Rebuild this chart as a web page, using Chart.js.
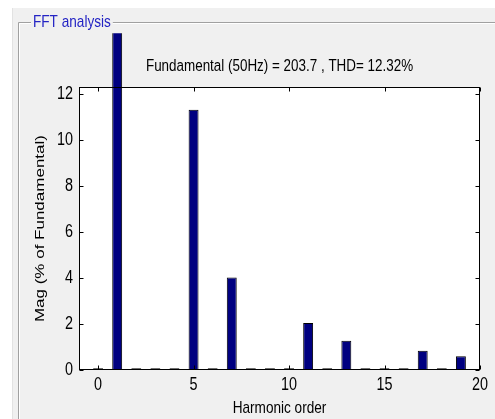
<!DOCTYPE html>
<html><head><meta charset="utf-8">
<script src="https://cdn.jsdelivr.net/npm/chart.js@4.4.1/dist/chart.umd.min.js"></script>
<style>html,body{margin:0;padding:0;background:#fff;}#wrap{width:495px;height:419px;}</style>
</head><body><div id="wrap"><canvas id="c" width="495" height="419"></canvas></div>
<script>
const harmonicOrder = [0,1,2,3,4,5,6,7,8,9,10,11,12,13,14,15,16,17,18,19];
const magnitude = [0.08,100,0.08,0.08,0.08,11.32,0.08,4.02,0.08,0.08,0.08,2.04,0.08,1.27,0.08,0.08,0.08,0.84,0.08,0.6];
const xTicks = [0,5,10,15,20];
const yTicks = [0,2,4,6,8,10,12];
const chartTitle = 'Fundamental (50Hz) = 203.7 , THD= 12.32%';
const panelTitle = 'FFT analysis';
const xTitle = 'Harmonic order';
const yTitle = 'Mag (% of Fundamental)';

const FONT = "'Liberation Sans', Arial, sans-serif";
const SQUISH = 0.8; // text in the reference is horizontally condensed

const canvas = document.getElementById('c');
const ctx0 = canvas.getContext('2d');
// condense all text horizontally in device space, around the anchor point
const origFill = ctx0.fillText.bind(ctx0);
ctx0.fillText = function (text, x, y, maxWidth) {
  const m = this.getTransform();
  const px = m.a * x + m.c * y + m.e;
  this.save();
  this.setTransform(new DOMMatrix().translate(px, 0).scale(SQUISH, 1).translate(-px, 0).multiply(m));
  if (maxWidth !== undefined) origFill(text, x, y, maxWidth / SQUISH); else origFill(text, x, y);
  this.restore();
};

const panel = {
  id: 'panel',
  beforeDraw(chart) {
    const ctx = chart.ctx, W = chart.width, H = chart.height;
    ctx.save();
    ctx.fillStyle = '#ffffff'; ctx.fillRect(0, 0, W, H);
    ctx.fillStyle = '#f0f0f0'; ctx.fillRect(12, 8, W - 12, H - 8);
    ctx.fillStyle = '#e2e2e2'; ctx.fillRect(12, 8, 1, H - 8);
    ctx.font = '17px ' + FONT;
    const tw = ctx.measureText(panelTitle).width * SQUISH;
    ctx.lineWidth = 1;
    ctx.strokeStyle = '#a0a0a0';
    ctx.beginPath();
    ctx.moveTo(18.5, H); ctx.lineTo(18.5, 22.5); ctx.lineTo(31, 22.5);
    ctx.moveTo(33 + tw + 2, 22.5); ctx.lineTo(W, 22.5);
    ctx.stroke();
    ctx.strokeStyle = '#ffffff';
    ctx.beginPath();
    ctx.moveTo(19.5, H); ctx.lineTo(19.5, 23.5); ctx.lineTo(31, 23.5);
    ctx.moveTo(33 + tw + 2, 23.5); ctx.lineTo(W, 23.5);
    ctx.stroke();
    ctx.fillStyle = '#2424c4';
    ctx.textBaseline = 'middle';
    ctx.fillText(panelTitle, 33, 22);
    const a = chart.chartArea;
    ctx.fillStyle = '#ffffff';
    ctx.fillRect(a.left, a.top, a.right - a.left, a.bottom - a.top);
    ctx.restore();
  },
  afterDatasetsDraw(chart) {
    const ctx = chart.ctx, a = chart.chartArea;
    const L = Math.round(a.left) + 0.5, R = Math.round(a.right) - 0.5;
    const T = Math.round(a.top) + 0.5, B = Math.round(a.bottom) - 0.5;
    ctx.save();
    ctx.strokeStyle = '#000'; ctx.lineWidth = 1;
    ctx.strokeRect(L, T, R - L, B - T);
    ctx.beginPath();
    const xs = chart.scales.x, ys = chart.scales.y;
    xTicks.forEach(v => {
      const px = Math.round(xs.getPixelForValue(v)) + 0.5;
      ctx.moveTo(px, B); ctx.lineTo(px, B - 4);
      ctx.moveTo(px, T); ctx.lineTo(px, T + 4);
    });
    yTicks.forEach(v => {
      const py = Math.round(ys.getPixelForValue(v)) + 0.5;
      ctx.moveTo(L, py); ctx.lineTo(L + 4, py);
      ctx.moveTo(R, py); ctx.lineTo(R - 4, py);
    });
    ctx.stroke();
    ctx.restore();
  }
};

new Chart(canvas, {
  type: 'bar',
  data: {
    datasets: [{
      data: harmonicOrder.map((h, i) => ({ x: h, y: magnitude[i] })),
      backgroundColor: '#000080',
      borderColor: '#000000',
      borderWidth: 1,
      barPercentage: 0.52,
      categoryPercentage: 1,
      clip: { left: 0, top: 54, right: 0, bottom: 0 }
    }]
  },
  options: {
    responsive: false,
    animation: false,
    devicePixelRatio: 1,
    layout: { padding: { left: 0, right: 15, top: 0, bottom: 0 } },
    plugins: {
      legend: { display: false },
      tooltip: { enabled: false },
      title: {
        display: true, text: chartTitle, fullSize: false, color: '#000',
        font: { family: FONT, size: 16.8, weight: 'normal' },
        padding: { top: 56, bottom: 11 }
      }
    },
    scales: {
      x: {
        type: 'linear', min: -1, max: 20, offset: false,
        grid: { display: false, drawTicks: false },
        border: { display: false },
        ticks: { padding: 4, color: '#000', font: { family: FONT, size: 18 } },
        afterBuildTicks(s) { s.ticks = xTicks.map(v => ({ value: v })); },
        afterFit(s) { s.height = 49; },
        title: { display: true, text: xTitle, color: '#000', font: { family: FONT, size: 17 }, padding: { top: 0, bottom: 0 } }
      },
      y: {
        min: 0, max: 12.3,
        grid: { display: false, drawTicks: false },
        border: { display: false },
        ticks: { padding: 6, color: '#000', font: { family: FONT, size: 18 } },
        afterBuildTicks(s) { s.ticks = yTicks.map(v => ({ value: v })); },
        afterFit(s) { s.width = 79; },
        title: { display: true, text: yTitle, color: '#000', font: { family: FONT, size: 17 }, padding: { top: 30, bottom: 0 } }
      }
    }
  },
  plugins: [panel]
});
</script></body></html>
